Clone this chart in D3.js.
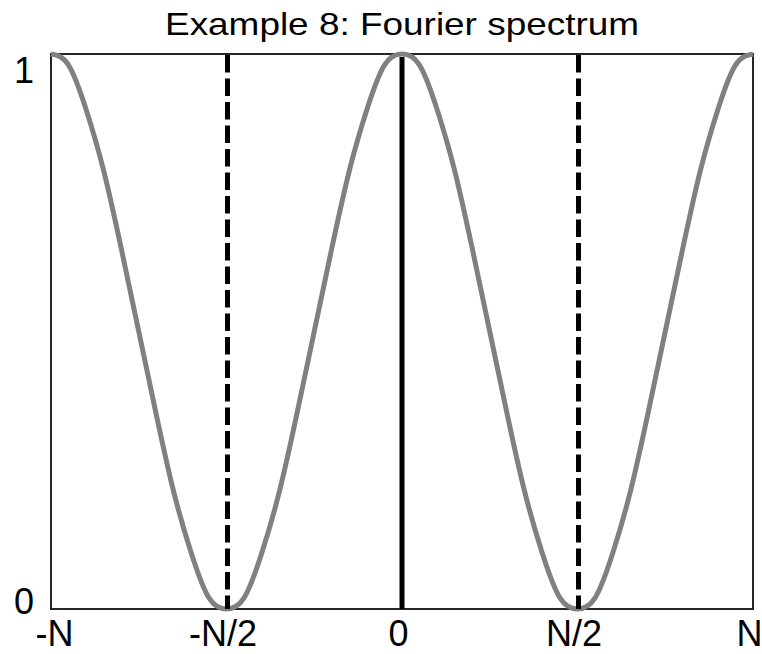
<!DOCTYPE html>
<html lang="en">
<head>
    <meta charset="UTF-8">
    <title>Example 8: Fourier spectrum</title>
    <script src="https://cdn.jsdelivr.net/npm/d3@7"></script>
    <style>
        body { margin: 0; background: #fff; }
        text { font-family: "Liberation Sans", Arial, sans-serif; }
    </style>
</head>
<body>
<script>
    // frequency positions, as fractions of N
    var freq = [-1, -0.95, -0.9, -0.85, -0.8, -0.75, -0.7, -0.65, -0.6, -0.55,
        -0.5, -0.45, -0.4, -0.35, -0.3, -0.25, -0.2, -0.15, -0.1, -0.05,
        0, 0.05, 0.1, 0.15, 0.2, 0.25, 0.3, 0.35, 0.4, 0.45,
        0.5, 0.55, 0.6, 0.65, 0.7, 0.75, 0.8, 0.85, 0.9, 0.95, 1];
    // spectrum magnitude
    var spectrum = [1, 0.98, 0.90, 0.79, 0.65, 0.50, 0.35, 0.21, 0.10, 0.02,
        0, 0.02, 0.10, 0.21, 0.35, 0.50, 0.65, 0.79, 0.90, 0.98,
        1, 0.98, 0.90, 0.79, 0.65, 0.50, 0.35, 0.21, 0.10, 0.02,
        0, 0.02, 0.10, 0.21, 0.35, 0.50, 0.65, 0.79, 0.90, 0.98, 1];
    var xTicks = [-1, -0.5, 0, 0.5, 1];
    var xTickLabels = ["-N", "-N/2", "0", "N/2", "N"];
    var yTicks = [0, 1];
    var yTickLabels = ["0", "1"];
    var dashedAt = [-0.5, 0.5];
    var solidAt = [0];

    function drawSpectrum() {
        var w = 762, h = 654;
        var pLeft = 51, pRight = 753, pTop = 54, pBottom = 609;

        var svg = d3.select("body").append("svg")
            .attr("width", w)
            .attr("height", h);

        var x = d3.scaleLinear().domain([-1, 1]).range([pLeft, pRight]);
        var y = d3.scaleLinear().domain([0, 1]).range([pBottom, pTop]);

        // title
        svg.append("text")
            .attr("x", 165)
            .attr("y", 35)
            .attr("font-size", "32px")
            .attr("textLength", 474)
            .attr("lengthAdjust", "spacingAndGlyphs")
            .attr("fill", "#000")
            .text("Example 8: Fourier spectrum");

        // frame
        svg.append("rect")
            .attr("x", pLeft)
            .attr("y", pTop)
            .attr("width", pRight - pLeft)
            .attr("height", pBottom - pTop)
            .attr("fill", "none")
            .attr("stroke", "#262626")
            .attr("stroke-width", 2);

        // spectrum curve
        var line = d3.line()
            .x(function (d, i) { return x(freq[i]); })
            .y(function (d) { return y(d); })
            .curve(d3.curveNatural);

        svg.append("path")
            .datum(spectrum)
            .attr("d", line)
            .attr("fill", "none")
            .attr("stroke", "#808080")
            .attr("stroke-width", 5)
            .attr("stroke-linejoin", "round");

        // marker lines
        svg.selectAll("line.dashed")
            .data(dashedAt)
            .enter()
            .append("line")
            .attr("class", "dashed")
            .attr("x1", function (d) { return x(d) + 1; })
            .attr("x2", function (d) { return x(d) + 1; })
            .attr("y1", pTop + 1)
            .attr("y2", pBottom)
            .attr("stroke", "#000")
            .attr("stroke-width", 5)
            .attr("stroke-dasharray", "17.5,6");

        svg.selectAll("line.solid")
            .data(solidAt)
            .enter()
            .append("line")
            .attr("class", "solid")
            .attr("x1", function (d) { return x(d); })
            .attr("x2", function (d) { return x(d); })
            .attr("y1", pTop + 3)
            .attr("y2", pBottom)
            .attr("stroke", "#000")
            .attr("stroke-width", 5);

        // axes (labels only)
        var xAxis = svg.append("g")
            .attr("transform", "translate(0," + pBottom + ")")
            .call(d3.axisBottom(x)
                .tickValues(xTicks)
                .tickFormat(function (d, i) { return xTickLabels[i]; })
                .tickSize(0)
                .tickPadding(11));
        xAxis.select(".domain").remove();
        xAxis.selectAll("text")
            .attr("font-size", "36px")
            .attr("font-family", "'Liberation Sans', Arial, sans-serif")
            .attr("fill", "#000")
            .attr("dx", function (d) { return d === -1 ? "3px" : "-4px"; });

        var yAxis = svg.append("g")
            .attr("transform", "translate(" + pLeft + ",0)")
            .call(d3.axisLeft(y)
                .tickValues(yTicks)
                .tickFormat(function (d, i) { return yTickLabels[i]; })
                .tickSize(0)
                .tickPadding(17));
        yAxis.select(".domain").remove();
        yAxis.selectAll("text")
            .attr("font-size", "36px")
            .attr("font-family", "'Liberation Sans', Arial, sans-serif")
            .attr("fill", "#000")
            .attr("dy", function (d) { return d === 1 ? "28px" : "4px"; });
    }
    drawSpectrum();
</script>
</body>
</html>
